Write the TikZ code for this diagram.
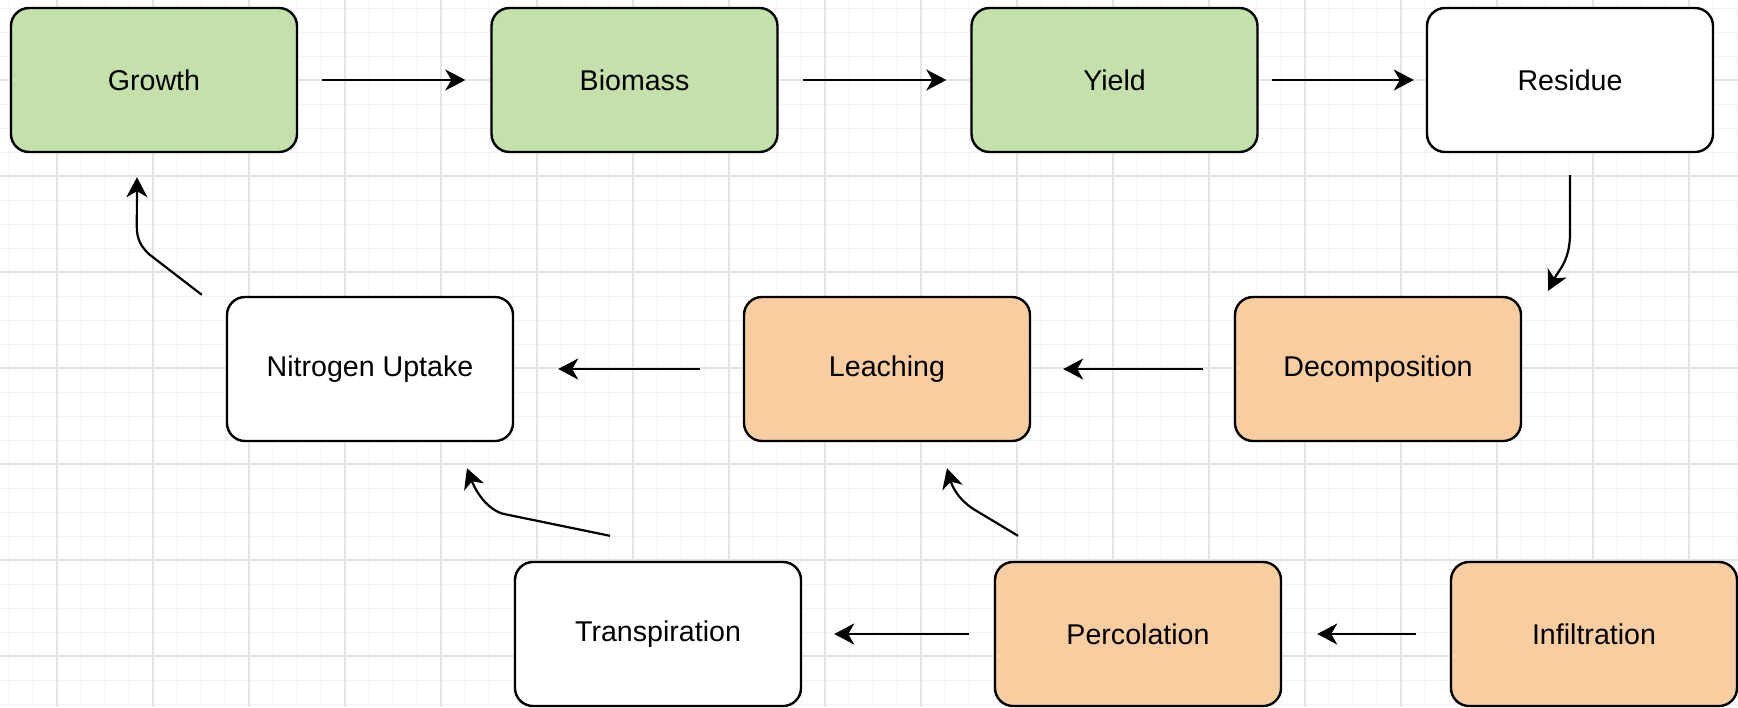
\documentclass[tikz,border=0pt]{standalone}
\usepackage{fontspec}
\setmainfont{Liberation Sans}
\usetikzlibrary{arrows.meta,calc}
\definecolor{leafgreen}{HTML}{C4E0AB}
\definecolor{soilorange}{HTML}{F8CEA0}
\definecolor{gridmajor}{HTML}{E4E4E4}
\definecolor{gridminor}{HTML}{F2F2F2}
\begin{document}
\begin{tikzpicture}[x=0.5pt,y=-0.5pt,
  stage/.style={draw=black, line width=1.2pt, rounded corners=9pt,
    minimum width=143pt, minimum height=72pt, inner sep=0pt,
    font=\fontsize{14.3}{17}\selectfont},
  plant/.style={stage, fill=leafgreen},
  soil/.style={stage, fill=soilorange},
  plain/.style={stage, fill=white},
  flow/.style={line width=1.1pt, -{Stealth[length=10pt,width=10.5pt,inset=3pt]}},
  minorline/.style={gridminor, line width=0.45pt},
  majorline/.style={gridmajor, line width=0.6pt},
]
\useasboundingbox (0,0) rectangle (1738,707);
\fill[white] (0,0) rectangle (1738,707);

% background grid
\foreach \x in {9,33,...,1737} \draw[minorline] (\x,0) -- (\x,707);
\foreach \y in {8,32,...,707} \draw[minorline] (0,\y) -- (1738,\y);
\foreach \x in {57,153,...,1737} \draw[majorline] (\x,0) -- (\x,707);
\foreach \y in {80,176,...,707} \draw[majorline] (0,\y) -- (1738,\y);

% crop stages
\node[plant] (growth)  at (154,80)    {Growth};
\node[plant] (biomass) at (634.5,80)  {Biomass};
\node[plant] (yield)   at (1114.5,80) {Yield};
\node[plain] (residue) at (1570,80)   {Residue};

% soil and nitrogen processes
\node[plain] (uptake)  at (370,369)   {Nitrogen Uptake};
\node[soil]  (leach)   at (887,369)   {Leaching};
\node[soil]  (decomp)  at (1378,369)  {Decomposition};

% water movement
\node[plain] (transp)  at (658,634)   {Transpiration};
\node[soil]  (perc)    at (1138,634)  {Percolation};
\node[soil]  (infil)   at (1594,634)  {Infiltration};

% straight connectors
\draw[flow, shorten <=12pt, shorten >=12.5pt] (growth.east) -- (biomass.west);
\draw[flow, shorten <=12pt, shorten >=12pt] (biomass.east) -- (yield.west);
\draw[flow, shorten <=6.5pt, shorten >=6pt] (yield.east) -- (residue.west);
\draw[flow, shorten <=15.5pt, shorten >=16pt] (decomp.west) -- (leach.east);
\draw[flow, shorten <=21.5pt, shorten >=22pt] (leach.west) -- (uptake.east);
\draw[flow, shorten <=12.5pt, shorten >=16pt] (perc.west) -- (transp.east);
\draw[flow, shorten <=17pt, shorten >=17.5pt] (infil.west) -- (perc.east);

% curved connectors
\draw[flow] ($(residue.south)+(0,22)$) -- ++(0,58)
  .. controls +(0,28) and +(10,-20) .. ($(decomp.north east)+(26,-5)$);
\draw[flow] ($(uptake.north west)+(-24,-1)$) -- ++(-52,-40)
  .. controls +(-9,-8) and +(0,12) .. ++(-13,-28)
  -- ($(growth.south)+(-17,24)$);
\draw[flow] ($(transp.north)+(-48,-25)$) -- ++(-107,-22)
  .. controls +(-20,-6) and +(6,16) .. ($(uptake.south)+(97,26)$);
\draw[flow] ($(perc.north)+(-120,-25)$) -- ++(-45,-27)
  .. controls +(-18,-12) and +(4,14) .. ($(leach.south)+(60,26)$);
\end{tikzpicture}
\end{document}
